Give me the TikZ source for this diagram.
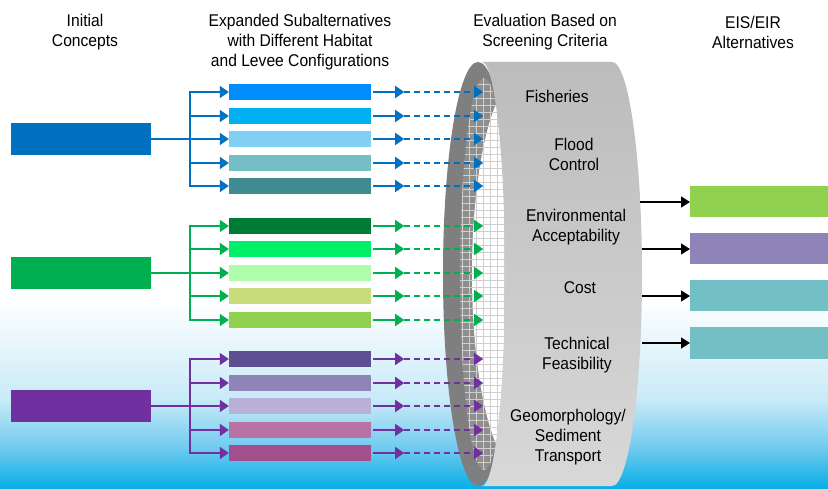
\documentclass[tikz,border=0pt]{standalone}
\usepackage{fontspec}
\setmainfont{Liberation Sans}[FakeStretch=0.92]
\usetikzlibrary{arrows.meta}
\definecolor{blueC}{HTML}{0070C0}
\definecolor{greenC}{HTML}{00B050}
\definecolor{purpleC}{HTML}{7030A0}
\definecolor{b1c}{HTML}{008CFF}
\definecolor{b2c}{HTML}{00B0F0}
\definecolor{b3c}{HTML}{80CFF4}
\definecolor{b4c}{HTML}{74BFC6}
\definecolor{b5c}{HTML}{3F8B91}
\definecolor{g1c}{HTML}{007A37}
\definecolor{g2c}{HTML}{00F06A}
\definecolor{g3c}{HTML}{ADFDAD}
\definecolor{g4c}{HTML}{C9DC7A}
\definecolor{g5c}{HTML}{92D050}
\definecolor{p1c}{HTML}{5C4F92}
\definecolor{p2c}{HTML}{8E84B8}
\definecolor{p3c}{HTML}{BAB1D6}
\definecolor{p4c}{HTML}{B872A6}
\definecolor{p5c}{HTML}{A34F8E}
\definecolor{r3c}{HTML}{72BFC5}
\definecolor{sky1}{HTML}{C8EAF8}
\definecolor{sky2}{HTML}{6CC9EE}
\definecolor{sky3}{HTML}{05AEE6}
\definecolor{darkband}{HTML}{7F7F7F}
\definecolor{meshgray}{HTML}{8E8E8E}
\definecolor{gridc}{HTML}{CFCFCF}
\definecolor{faceTop}{HTML}{BCBCBC}
\definecolor{faceBot}{HTML}{D8D8D8}
\begin{document}
\begin{tikzpicture}[x=1pt,y=-1pt,
  lbl/.style={font=\fontsize{17}{20}\selectfont, align=center, inner sep=0pt, text=black},
  bigbox/.style={minimum width=140pt, minimum height=32pt, inner sep=0pt},
  bar/.style={minimum width=142pt, minimum height=16pt, inner sep=0pt},
  outbox/.style={minimum width=138pt, minimum height=31pt, inner sep=0pt, anchor=west},
  con/.style={line width=1.6pt, -{Triangle[length=9pt,width=12pt]}},
  dsh/.style={con, dash pattern=on 6pt off 4pt},
]
\useasboundingbox (0,0) rectangle (828,489);
% background
\fill[white] (0,0) rectangle (828,489);
\shade[top color=white, bottom color=sky1] (0,300) rectangle (828,400);
\shade[top color=sky1, bottom color=sky2] (0,399.5) rectangle (828,450);
\shade[top color=sky2, bottom color=sky3] (0,449.5) rectangle (828,489);

% headers
\node[lbl] (h1) at (85,32) {Initial\\Concepts};
\node[lbl] (h2) at (300,42) {Expanded Subalternatives\\with Different Habitat\\and Levee Configurations};
\node[lbl] (h3) at (545,32) {Evaluation Based on\\Screening Criteria};
\node[lbl] (h4) at (753,32) {EIS/EIR\\Alternatives};

% cylinder
\fill[darkband] (478,274) ellipse[x radius=35pt, y radius=212pt];
\begin{scope}
  \clip (484,274) ellipse[x radius=24pt, y radius=196pt];
  \fill[meshgray] (440,60) rectangle (530,490);
  \fill[white] (520,274) ellipse[x radius=48pt, y radius=196pt];
  \draw[gridc, line width=0.9pt] (440,60) grid[step=7pt] (530,490);
\end{scope}
\shade[top color=faceTop, bottom color=faceBot]
  (482,62) -- (612,62) arc[start angle=90, end angle=-90, x radius=30pt, y radius=212pt]
  -- (482,486) arc[start angle=-90, end angle=90, x radius=23pt, y radius=212pt] -- cycle;

% criteria
\node[lbl] (c1) at (557,96) {Fisheries};
\node[lbl] (c2) at (574,154) {Flood\\Control};
\node[lbl] (c3) at (576,227) {Environmental\\Acceptability};
\node[lbl] (c4) at (580,288) {Cost};
\node[lbl] (c5) at (577,355) {Technical\\Feasibility};
\node[lbl] (c6) at (568,437) {Geomorphology/\\Sediment\\Transport};

% initial concepts
\node[bigbox, fill=blueC] (L1) at (81,139) {};
\node[bigbox, fill=greenC] (L2) at (81,273) {};
\node[bigbox, fill=purpleC] (L3) at (81,406) {};

% bars
\node[bar, fill=b1c] (b1) at (300,92) {};
\node[bar, fill=b2c] (b2) at (300,116) {};
\node[bar, fill=b3c] (b3) at (300,139) {};
\node[bar, fill=b4c] (b4) at (300,163) {};
\node[bar, fill=b5c] (b5) at (300,186) {};
\node[bar, fill=g1c] (g1) at (300,226) {};
\node[bar, fill=g2c] (g2) at (300,249) {};
\node[bar, fill=g3c] (g3) at (300,273) {};
\node[bar, fill=g4c] (g4) at (300,296) {};
\node[bar, fill=g5c] (g5) at (300,320) {};
\node[bar, fill=p1c] (p1) at (300,359) {};
\node[bar, fill=p2c] (p2) at (300,383) {};
\node[bar, fill=p3c] (p3) at (300,406) {};
\node[bar, fill=p4c] (p4) at (300,430) {};
\node[bar, fill=p5c] (p5) at (300,453) {};

% trunk coordinates
\coordinate (t1) at (190,139);
\coordinate (t2) at (190,273);
\coordinate (t3) at (190,406);

\foreach \b in {b1,b2,b3,b4,b5}
  \draw[con, blueC] (L1.east) -- (t1) |- (\b.west);
\foreach \b in {g1,g2,g3,g4,g5}
  \draw[con, greenC] (L2.east) -- (t2) |- (\b.west);
\foreach \b in {p1,p2,p3,p4,p5}
  \draw[con, purpleC] (L3.east) -- (t3) |- (\b.west);

% arrows to the screen
\foreach \b/\c in {b1/blueC,b2/blueC,b3/blueC,b4/blueC,b5/blueC,
                   g1/greenC,g2/greenC,g3/greenC,g4/greenC,g5/greenC,
                   p1/purpleC,p2/purpleC,p3/purpleC,p4/purpleC,p5/purpleC}{
  \coordinate (\b m) at ([xshift=33pt]\b.east);
  \coordinate (\b e) at ([xshift=112pt]\b.east);
  \draw[con, \c, shorten <=2pt] (\b.east) -- (\b m);
  \draw[dsh, \c] (\b m) -- (\b e);
}

% EIS/EIR alternatives
\node[outbox, fill=g5c] (R1) at (690,202) {};
\node[outbox, fill=p2c] (R2) at (690,249) {};
\node[outbox, fill=r3c] (R3) at (690,296) {};
\node[outbox, fill=r3c] (R4) at (690,343) {};
\coordinate (s1) at (640,202);
\coordinate (s2) at (642,249);
\coordinate (s3) at (642,296);
\coordinate (s4) at (642,343);
\foreach \i in {1,2,3,4}
  \draw[line width=1.5pt, black, -{Triangle[length=9pt,width=11pt]}] (s\i) -- (R\i.west);
\end{tikzpicture}
\end{document}
